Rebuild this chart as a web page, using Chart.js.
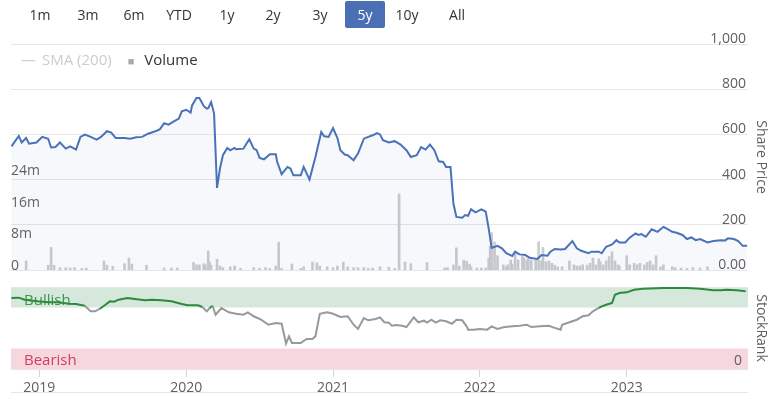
<!DOCTYPE html>
<html>
<head>
<meta charset="utf-8">
<script src="https://cdn.jsdelivr.net/npm/chart.js@4"></script>
<style>
  body { margin: 0; background: #fff; font-family: "Open Sans", sans-serif; }
  #wrap { position: relative; width: 773px; height: 395px; overflow: hidden; }
  canvas { position: absolute; left: 0; }
  .btn { position: absolute; top: 1px; width: 40px; height: 27px; line-height: 27px; text-align: center;
         font-size: 14px; color: #333; border-radius: 2px; }
  .btn.on { background: #4a6fb5; color: #fff; }
  #legend { position: absolute; left: 21px; top: 49px; font-size: 15px; color: #333; white-space: nowrap; }
  #legend .off { color: #ccc; }
  #legend .dash { color: #ccc; margin-right: 6px; }
  #legend .sq { color: #aaa; font-size: 11px; margin: 0 10px 0 16px; }
  #nav { position: absolute; left: 11px; top: 392px; width: 737px; height: 1px; background: #e6e6e6; }
</style>
</head>
<body>
<div id="wrap">
  <canvas id="priceChart" width="773" height="275" style="top:0"></canvas>
  <canvas id="rankChart" width="773" height="115" style="top:280px"></canvas>
  <div id="legend"><span class="dash">—</span><span class="off">SMA (200)</span><span class="sq">■</span>Volume</div>
  <div id="nav"></div>
</div>
<script>
const ranges = ["1m", "3m", "6m", "YTD", "1y", "2y", "3y", "5y", "10y", "All"];
const activeRange = "5y";

const xMin = 2018.807;
const xMax = 2023.826;

// share price (date as decimal year)
const priceDates = [2018.81,2018.86,2018.88,2018.91,2018.93,2018.98,2019.02,2019.06,2019.08,2019.11,
  2019.14,2019.18,2019.21,2019.25,2019.28,2019.31,2019.35,2019.39,2019.42,2019.46,
  2019.49,2019.52,2019.58,2019.62,2019.66,2019.70,2019.74,2019.79,2019.82,2019.85,
  2019.88,2019.91,2019.95,2019.97,2020.00,2020.03,2020.04,2020.07,2020.09,2020.12,
  2020.14,2020.15,2020.17,2020.19,2020.21,2020.23,2020.25,2020.28,2020.30,2020.33,
  2020.34,2020.39,2020.41,2020.43,2020.46,2020.48,2020.50,2020.53,2020.57,2020.61,
  2020.62,2020.65,2020.69,2020.71,2020.73,2020.78,2020.80,2020.84,2020.88,2020.92,
  2020.94,2020.97,2021.00,2021.03,2021.05,2021.08,2021.10,2021.14,2021.17,2021.21,
  2021.24,2021.27,2021.30,2021.32,2021.34,2021.38,2021.42,2021.46,2021.50,2021.53,
  2021.57,2021.60,2021.63,2021.66,2021.69,2021.72,2021.75,2021.77,2021.80,2021.82,
  2021.84,2021.88,2021.90,2021.92,2021.94,2021.97,2022.01,2022.04,2022.06,2022.08,
  2022.12,2022.15,2022.18,2022.22,2022.24,2022.27,2022.31,2022.34,2022.39,2022.42,
  2022.46,2022.48,2022.51,2022.55,2022.58,2022.63,2022.66,2022.69,2022.74,2022.76,
  2022.81,2022.83,2022.86,2022.90,2022.93,2022.95,2022.99,2023.02,2023.06,2023.08,
  2023.10,2023.13,2023.17,2023.21,2023.25,2023.27,2023.31,2023.34,2023.38,2023.41,
  2023.44,2023.47,2023.50,2023.55,2023.59,2023.64,2023.67,2023.69,2023.73,2023.76,
  2023.79,2023.82];
const priceValues = [547,593,564,584,559,564,589,581,542,544,
  564,537,547,533,589,599,589,577,589,614,
  608,584,584,581,587,589,603,614,622,650,
  643,655,670,702,709,696,728,761,761,725,
  714,716,743,692,363,449,508,540,530,540,
  534,537,559,578,537,530,496,490,512,512,
  478,424,456,449,419,419,456,400,500,611,
  592,589,628,584,530,511,508,486,515,581,
  589,596,606,600,574,564,570,555,530,500,
  508,544,533,555,530,481,478,456,456,294,
  235,231,243,240,269,255,268,258,184,98,
  107,96,74,62,81,69,66,54,49,66,
  63,81,93,91,93,128,96,85,74,81,
  81,74,103,113,132,122,122,143,162,155,
  159,147,180,169,191,184,169,165,155,137,
  144,132,137,122,128,132,131,140,137,128,
  107,107];

// volume in millions
const volDates = [2018.91,2019.06,2019.08,2019.10,2019.14,2019.18,2019.21,2019.24,2019.29,2019.32,
  2019.44,2019.46,2019.50,2019.58,2019.61,2019.63,2019.73,2019.85,2019.90,2019.94,
  2020.05,2020.07,2020.09,2020.12,2020.13,2020.15,2020.16,2020.17,2020.21,2020.23,
  2020.25,2020.30,2020.33,2020.37,2020.46,2020.50,2020.54,2020.57,2020.61,2020.63,
  2020.65,2020.72,2020.78,2020.80,2020.86,2020.89,2020.91,2020.96,2021.00,2021.03,
  2021.07,2021.10,2021.14,2021.17,2021.21,2021.24,2021.27,2021.32,2021.38,2021.42,
  2021.45,2021.49,2021.53,2021.64,2021.76,2021.78,2021.82,2021.84,2021.86,2021.89,
  2021.91,2021.93,2021.94,2021.98,2022.01,2022.04,2022.06,2022.07,2022.08,2022.10,
  2022.12,2022.16,2022.18,2022.19,2022.21,2022.22,2022.24,2022.26,2022.29,2022.30,
  2022.32,2022.33,2022.35,2022.38,2022.40,2022.42,2022.43,2022.45,2022.47,2022.49,
  2022.51,2022.53,2022.56,2022.61,2022.64,2022.66,2022.68,2022.70,2022.73,2022.75,
  2022.77,2022.79,2022.81,2022.82,2022.84,2022.86,2022.88,2022.90,2022.92,2022.94,
  2022.95,2023.00,2023.02,2023.05,2023.07,2023.09,2023.12,2023.14,2023.16,2023.18,
  2023.20,2023.23,2023.25,2023.31,2023.33,2023.37,2023.41,2023.45,2023.50,2023.55];
const volValues = [2.3,1.2,5.7,1.2,0.6,0.6,0.5,0.6,0.4,0.5,
  2.3,1.2,0.9,1.6,3.0,1.5,1.2,0.5,0.5,0.5,
  1.9,1.3,1.3,1.6,1.3,4.8,2.0,1.2,2.7,1.0,
  0.6,0.8,1.0,0.4,0.6,0.4,0.6,0.4,1.0,7.0,
  0.4,1.5,0.4,0.8,2.0,1.8,1.0,0.8,0.6,1.0,
  2.0,0.8,0.6,0.6,0.6,0.4,0.5,0.8,0.7,0.4,
  19.2,2.0,1.6,1.9,0.5,0.6,1.3,5.6,1.0,2.5,
  2.2,1.5,0.8,0.5,0.5,0.5,3.0,6.0,9.4,7.1,
  3.6,1.3,0.8,1.3,2.5,1.5,4.6,2.5,3.4,3.0,
  2.5,3.0,2.5,2.5,7.1,2.3,5.7,2.1,2.3,1.7,
  1.2,0.8,0.8,2.3,1.3,1.0,1.0,1.3,1.2,1.7,
  3.0,1.3,2.8,2.1,1.3,2.3,3.4,4.6,2.3,1.3,
  1.0,3.6,1.3,1.7,1.3,1.7,1.3,1.9,2.3,1.3,
  3.6,0.8,1.3,0.8,0.6,0.5,0.4,0.6,0.5,0.8];

// StockRank (0-100)
const rankDates = [2018.81,2018.86,2018.90,2018.99,2019.06,2019.13,2019.20,2019.25,2019.31,2019.35,
  2019.38,2019.41,2019.45,2019.48,2019.51,2019.54,2019.60,2019.65,2019.72,2019.77,
  2019.83,2019.90,2019.97,2020.01,2020.08,2020.11,2020.14,2020.16,2020.18,2020.20,
  2020.24,2020.29,2020.34,2020.39,2020.42,2020.46,2020.51,2020.56,2020.61,2020.65,
  2020.68,2020.70,2020.72,2020.78,2020.82,2020.86,2020.88,2020.91,2020.96,2021.00,
  2021.05,2021.10,2021.14,2021.17,2021.21,2021.24,2021.29,2021.32,2021.35,2021.38,
  2021.40,2021.43,2021.47,2021.50,2021.55,2021.58,2021.62,2021.64,2021.67,2021.70,
  2021.73,2021.77,2021.81,2021.84,2021.88,2021.91,2021.92,2021.96,2022.00,2022.05,
  2022.08,2022.12,2022.16,2022.22,2022.27,2022.32,2022.35,2022.41,2022.47,2022.50,
  2022.55,2022.56,2022.61,2022.66,2022.70,2022.74,2022.77,2022.81,2022.83,2022.86,
  2022.90,2022.92,2022.95,2023.00,2023.05,2023.11,2023.25,2023.41,2023.50,2023.59,
  2023.64,2023.68,2023.75,2023.81];
const rankValues = [86.6,87,84.5,82.5,81.3,81.3,79.7,79.3,77.2,70.3,
  70.3,73.2,78.4,82.5,82,84.5,86.6,85.4,83.8,84.5,
  83.8,82.5,79.3,77.7,77.7,75.6,70.3,74.4,77.2,66.2,
  74.4,69.1,67.4,66.2,69.1,64.3,60.1,54,56,55.2,
  30.9,39.8,31.7,31.7,36.6,36.6,39.8,67.4,69.1,67.4,
  63.4,64.3,54,48.8,62.2,59.4,61,63,57,56.5,
  52.8,53.6,52.8,51.2,63,57,58.9,56.5,60.1,56.5,
  59.4,58.2,55.2,60.1,59.4,52,48,48,48.8,48,
  52,48.8,50.8,52,52.8,54,51.2,52,52.8,50.8,
  48,54,57,60.1,64.3,65.5,70.3,74.4,76.4,78.4,
  80.5,90.6,92.7,93.5,96.7,97.9,98.8,98.8,97.9,96,
  96,96.7,96,94.8];

const bullishFrom = 75;
const bearishTo = 25;

// range buttons
const btnCenters = [40, 88, 134, 179, 227, 273, 320, 365, 407, 457];
ranges.forEach((r, i) => {
  const b = document.createElement("div");
  b.className = "btn" + (r === activeRange ? " on" : "");
  b.textContent = r;
  b.style.left = (btnCenters[i] - 20) + "px";
  document.getElementById("wrap").appendChild(b);
});

Chart.defaults.font.family = '"Open Sans", sans-serif';
Chart.defaults.font.size = 14;
Chart.defaults.color = "#606060";
Chart.defaults.animation = false;

const gridColor = "#e6e6e6";
const toXY = (xs, ys) => xs.map((x, i) => ({ x: x, y: ys[i] }));
// no extra room for mirrored labels at the top/bottom of an axis
const noEdgePad = (s) => { s.paddingTop = 0; s.paddingBottom = 0; };

new Chart(document.getElementById("priceChart"), {
  type: "line",
  data: {
    datasets: [
      {
        label: "Share Price",
        data: toXY(priceDates, priceValues),
        yAxisID: "price",
        borderColor: "#4a72b8",
        backgroundColor: "rgba(74,114,184,0.05)",
        fill: "origin",
        borderWidth: 2,
        pointRadius: 0,
        tension: 0,
        order: 0,
      },
      {
        type: "bar",
        label: "Volume",
        data: toXY(volDates, volValues),
        yAxisID: "vol",
        backgroundColor: "#cbcccf",
        barThickness: 2,
        order: 1,
      },
    ],
  },
  options: {
    responsive: false,
    layout: { padding: { top: 44, bottom: 5 } },
    plugins: { legend: { display: false }, tooltip: { enabled: false } },
    scales: {
      x: { type: "linear", min: xMin, max: xMax, display: false, offset: false },
      vol: {
        position: "left",
        min: 0,
        max: 57,
        grid: { display: false },
        border: { display: false },
        ticks: {
          mirror: true,
          padding: 0,
          stepSize: 8,
          labelOffset: -4,
          callback: (v) => (v === 0 ? "0" : v <= 24 ? v + "m" : null),
        },
        afterFit: (s) => { s.width = 11; noEdgePad(s); },
      },
      price: {
        position: "right",
        min: 0,
        max: 1000,
        grid: { color: gridColor, drawTicks: false },
        border: { display: false },
        ticks: {
          mirror: true,
          padding: -2,
          stepSize: 200,
          labelOffset: -5,
          callback: (v) => (v === 0 ? "0.00" : v.toLocaleString("en-US")),
        },
        title: { display: true, text: "Share Price", color: "#606060", padding: { top: 4, bottom: 0 } },
        afterFit: (s) => { s.width = 25; noEdgePad(s); },
      },
    },
  },
});

const bandPlugin = {
  id: "bands",
  beforeDraw(chart) {
    const { ctx, chartArea } = chart;
    const y = chart.scales.rank;
    const w = chartArea.right - chartArea.left;
    const gTop = y.getPixelForValue(100), gBot = y.getPixelForValue(bullishFrom);
    const rTop = y.getPixelForValue(bearishTo), rBot = y.getPixelForValue(0);
    ctx.save();
    ctx.fillStyle = "#d5e8db";
    ctx.fillRect(chartArea.left, gTop, w, gBot - gTop);
    ctx.fillStyle = "#f5d7dd";
    ctx.fillRect(chartArea.left, rTop, w, rBot - rTop);
    ctx.font = '15px "Open Sans", sans-serif';
    ctx.textBaseline = "middle";
    ctx.fillStyle = "#3c9650";
    ctx.fillText("Bullish", chartArea.left + 13, (gTop + gBot) / 2 + 3);
    ctx.fillStyle = "#d23c5f";
    ctx.fillText("Bearish", chartArea.left + 13, (rTop + rBot) / 2 + 2);
    ctx.restore();
  },
};

new Chart(document.getElementById("rankChart"), {
  type: "line",
  data: {
    datasets: [
      {
        label: "StockRank",
        data: toXY(rankDates, rankValues),
        yAxisID: "rank",
        borderColor: "#999",
        borderWidth: 2,
        pointRadius: 0,
        tension: 0,
        segment: {
          borderColor: (c) => ((c.p0.parsed.y + c.p1.parsed.y) / 2 >= bullishFrom ? "#2b8a3e" : "#999"),
        },
      },
    ],
  },
  plugins: [bandPlugin],
  options: {
    responsive: false,
    layout: { padding: { top: 7, left: 11 } },
    plugins: { legend: { display: false }, tooltip: { enabled: false } },
    scales: {
      x: {
        type: "linear",
        min: xMin,
        max: xMax,
        offset: false,
        grid: { drawOnChartArea: false, drawTicks: true, tickLength: 8, color: "#ccd6eb" },
        border: { display: false },
        ticks: {
          stepSize: 1,
          includeBounds: false,
          padding: 3,
          maxRotation: 0,
          callback: (v) => (Number.isInteger(v) ? String(v) : null),
        },
        afterFit: (s) => { s.height = 26; },
      },
      rank: {
        position: "right",
        min: 0,
        max: 100,
        grid: { color: gridColor, drawTicks: false },
        border: { display: false },
        ticks: {
          mirror: true,
          padding: -6,
          stepSize: 100,
          labelOffset: -8,
          callback: (v) => (v === 0 ? "0" : ""),
        },
        title: { display: true, text: "StockRank", color: "#606060", padding: { top: 4, bottom: 0 } },
        afterFit: (s) => { s.width = 25; noEdgePad(s); },
      },
    },
  },
});
</script>
</body>
</html>
